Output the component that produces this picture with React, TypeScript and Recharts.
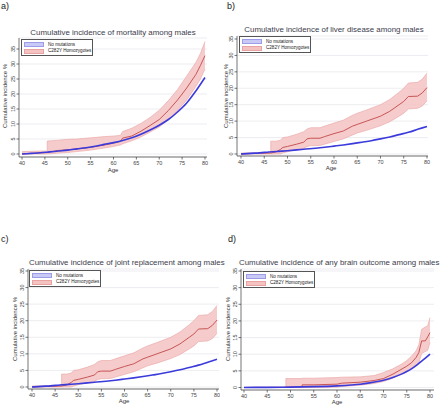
import React from 'react';
import { ComposedChart, Area, Line, XAxis, YAxis, CartesianGrid, Legend } from 'recharts';

const FONT = '"Liberation Sans", Arial, Helvetica, sans-serif';

// ---------- shared ticks ----------
const AGE_TICKS = [40, 45, 50, 55, 60, 65, 70, 75, 80];
const PCT_TICKS = [0, 5, 10, 15, 20, 25, 30, 35];
const SERIES_NAMES = ['No mutations', 'C282Y Homozygotes'];

// ---------- a) mortality ----------
const mortAges = [40, 42, 44, 45.5, 45.5, 48, 50, 52, 55, 58, 60, 61.5, 62, 64, 66, 68, 70, 72, 74, 76, 78, 79, 80];
const mortEst = [0, 0.2, 0.4, 0.5, 0.5, 1.2, 1.4, 1.7, 2.2, 3.0, 3.6, 4.2, 5.3, 6.0, 7.6, 9.5, 11.5, 14.5, 18.0, 22.0, 26.5, 29.5, 32.8];
const mortLow = [0, 0, 0, 0, 0, 0.3, 0.5, 0.8, 1.3, 2.0, 2.5, 3.0, 3.4, 4.4, 5.7, 7.3, 9.0, 11.5, 14.5, 18.0, 22.5, 25.0, 28.3];
const mortHigh = [0.8, 0.9, 1.0, 1.0, 4.3, 4.6, 4.9, 5.0, 5.4, 5.8, 6.0, 6.2, 7.5, 8.6, 10.2, 12.2, 14.6, 17.8, 21.5, 26.0, 30.5, 33.5, 37.5];
const refAges = [40, 42, 44, 46, 48, 50, 52, 54, 56, 58, 60, 62, 64, 66, 68, 70, 72, 74, 76, 78, 80];
const mortRef = [0, 0.2, 0.4, 0.7, 1.0, 1.3, 1.7, 2.1, 2.6, 3.2, 3.8, 4.5, 5.4, 6.6, 8.0, 9.6, 11.5, 14.0, 17.0, 21.0, 25.5];

// ---------- b) liver disease ----------
const liverAges = [40, 44, 46.4, 46.4, 47.5, 48.5, 49, 50, 52, 53.5, 54.2, 55, 57, 58, 60, 62, 64, 65, 67, 70, 72, 74, 75, 76, 78, 79, 80];
const liverEst = [0, 0.2, 0.3, 0.3, 0.6, 1.4, 2.0, 2.3, 3.0, 3.6, 4.6, 4.8, 4.8, 5.3, 6.2, 7.0, 8.5, 9.0, 10.0, 11.5, 13.0, 15.0, 16.0, 17.5, 17.6, 18.6, 20.2];
const liverLow = [0, 0, 0, 0, 0, 0, 0.3, 0.7, 1.3, 1.7, 2.3, 2.5, 2.6, 3.0, 3.8, 4.6, 5.8, 6.4, 7.2, 8.6, 9.8, 11.5, 12.4, 13.7, 13.9, 14.6, 16.2];
const liverHigh = [0.3, 0.4, 0.5, 3.9, 3.9, 4.2, 5.0, 5.2, 6.0, 6.8, 7.6, 8.0, 8.0, 8.5, 9.4, 10.3, 11.8, 12.4, 13.4, 15.0, 16.6, 18.8, 20.0, 21.6, 21.8, 22.8, 24.6];
const liverRef = [0, 0.2, 0.35, 0.6, 0.8, 1.0, 1.25, 1.5, 1.75, 2.05, 2.4, 2.75, 3.15, 3.6, 4.05, 4.6, 5.2, 5.9, 6.6, 7.5, 8.4];

// ---------- c) joint replacement ----------
const jointAges = [40, 44, 46.4, 46.4, 47.5, 48.5, 49, 50, 52, 53.5, 54.2, 55, 57, 58, 60, 62, 64, 65, 67, 70, 72, 74, 75, 76, 78, 79, 80];
const jointEst = [0, 0.2, 0.3, 0.3, 0.6, 1.4, 2.0, 2.3, 3.0, 3.6, 4.6, 4.8, 4.8, 5.3, 6.2, 7.0, 8.5, 9.0, 10.0, 11.5, 13.0, 15.0, 16.0, 17.5, 17.6, 18.6, 20.2];
const jointLow = [0, 0, 0, 0, 0, 0, 0.3, 0.7, 1.3, 1.7, 2.3, 2.5, 2.6, 3.0, 3.8, 4.6, 5.8, 6.4, 7.2, 8.6, 9.8, 11.5, 12.4, 13.7, 13.9, 14.6, 16.2];
const jointHigh = [0.3, 0.4, 0.5, 3.9, 3.9, 4.2, 5.0, 5.2, 6.0, 6.8, 7.6, 8.0, 8.0, 8.5, 9.4, 10.3, 11.8, 12.4, 13.4, 15.0, 16.6, 18.8, 20.0, 21.6, 21.8, 22.8, 24.6];
const jointRef = [0, 0.2, 0.35, 0.6, 0.8, 1.0, 1.25, 1.5, 1.75, 2.05, 2.4, 2.75, 3.15, 3.6, 4.05, 4.6, 5.2, 5.9, 6.6, 7.5, 8.4];

// ---------- d) any brain outcome ----------
const brainAges = [40, 49, 49, 52.5, 52.5, 55, 60, 61, 65, 68, 70, 72, 74, 75, 76, 77, 77.6, 78.2, 79, 79.5, 80];
const brainEst = [0, 0, 0.1, 0.2, 0.8, 0.8, 1.0, 1.3, 1.6, 2.1, 2.7, 4.0, 5.6, 6.4, 7.4, 9.0, 10.5, 14.0, 14.0, 15.2, 16.5];
const brainLow = [0, 0, 0, 0, 0, 0, 0.1, 0.3, 0.7, 1.2, 1.8, 2.8, 4.2, 5.0, 5.8, 6.8, 7.5, 10.2, 10.8, 11.2, 13.5];
const brainHigh = [0.1, 0.2, 2.7, 2.7, 2.8, 2.8, 3.0, 3.1, 3.2, 3.6, 4.5, 5.6, 7.1, 8.1, 9.4, 11.0, 12.8, 17.5, 18.2, 18.5, 21.0];
const brainRefAges = [40, 45, 50, 55, 60, 63, 65, 67, 69, 70, 72, 74, 75, 76, 77, 78, 79, 80];
const brainRef = [0, 0.05, 0.1, 0.25, 0.5, 0.75, 1.0, 1.4, 1.9, 2.2, 3.0, 4.1, 4.8, 5.6, 6.6, 7.7, 8.8, 10.0];

const buildBand = (ages: number[], est: number[], lo: number[], hi: number[]) =>
  ages.map((a, i) => ({ age: a, est: est[i], band: [lo[i], hi[i]] }));
const buildRef = (ages: number[], v: number[]) => ages.map((a, i) => ({ age: a, ref: v[i] }));

const AXIS = '#3a3a3a';
const BLUE = '#3b3bdc';
const RED = '#c24848';
const PINK = '#f5c2c2';
const PINK_EDGE = '#e9a2a2';
const LAV = '#c9c9f6';
const LAV_EDGE = '#9c9ce8';

const LegendBox = () => (
  <div
    style={{
      width: 72,
      height: 17,
      boxSizing: 'border-box',
      border: '0.7px solid #555',
      background: '#fff',
      fontFamily: FONT,
      fontSize: 4.6,
      color: '#222',
      padding: '1.5px 2px',
      lineHeight: '6px',
      whiteSpace: 'nowrap',
      overflow: 'hidden',
    }}
  >
    {SERIES_NAMES.map((n, i) => (
      <div key={n} style={{ display: 'flex', alignItems: 'center', height: 6.5, whiteSpace: 'nowrap' }}>
        <span
          style={{
            display: 'inline-block',
            flex: '0 0 20px',
            width: 20,
            height: 5,
            boxSizing: 'border-box',
            background: i === 0 ? LAV : PINK,
            border: `0.5px solid ${i === 0 ? LAV_EDGE : PINK_EDGE}`,
            marginRight: 4,
          }}
        />
        <span style={{ whiteSpace: 'nowrap' }}>{n}</span>
      </div>
    ))}
  </div>
);

type PanelProps = {
  left: number;
  top: number;
  width: number;
  height: number;
  margin: { top: number; right: number; bottom: number; left: number };
  yWidth: number;
  xHeight: number;
  xDomain: [number, number];
  yDomain: [number, number];
  legend: { x: number; y: number };
  yLabel: { x: number; y: number };
  ageLabel: { x: number; y: number };
  band: any[];
  ref_: any[];
};

const Panel = (p: PanelProps) => {
  const YTick = (tp: any) => {
    const { x, y, payload } = tp;
    return (
      <text
        x={x}
        y={y}
        transform={`rotate(-90 ${x} ${y})`}
        textAnchor="middle"
        fontSize={5.5}
        fill="#444"
        fontFamily={FONT}
      >
        {payload.value}
      </text>
    );
  };
  return (
    <div style={{ position: 'absolute', left: p.left, top: p.top, width: p.width, height: p.height }}>
      <ComposedChart width={p.width} height={p.height} margin={p.margin}>
        <CartesianGrid vertical={false} stroke="#e0e0e8" strokeWidth={0.6} />
        <XAxis
          dataKey="age"
          type="number"
          domain={p.xDomain}
          allowDataOverflow
          ticks={AGE_TICKS}
          interval={0}
          height={p.xHeight}
          stroke={AXIS}
          strokeWidth={0.7}
          tickSize={2.5}
          tickMargin={1.5}
          tick={{ fontSize: 5.5, fill: '#444', fontFamily: FONT }}
          label={{
            content: () => (
              <text x={p.ageLabel.x} y={p.ageLabel.y} textAnchor="middle" fontSize={6} fill="#333" fontFamily={FONT}>
                Age
              </text>
            ),
          }}
        />
        <YAxis
          type="number"
          domain={p.yDomain}
          allowDataOverflow
          ticks={PCT_TICKS}
          interval={0}
          width={p.yWidth}
          stroke={AXIS}
          strokeWidth={0.7}
          tickSize={2.5}
          tickMargin={1.5}
          tick={YTick}
          label={{
            content: () => (
              <text
                x={p.yLabel.x}
                y={p.yLabel.y}
                transform={`rotate(-90 ${p.yLabel.x} ${p.yLabel.y})`}
                textAnchor="middle"
                fontSize={6}
                fill="#333"
                fontFamily={FONT}
              >
                Cumulative incidence %
              </text>
            ),
          }}
        />
        <Area
          data={p.band}
          dataKey="band"
          type="linear"
          fill={PINK}
          fillOpacity={0.85}
          stroke={PINK_EDGE}
          strokeWidth={0.6}
          isAnimationActive={false}
          dot={false}
          activeDot={false}
        />
        <Line
          data={p.band}
          dataKey="est"
          type="linear"
          stroke={RED}
          strokeWidth={0.9}
          dot={false}
          activeDot={false}
          isAnimationActive={false}
        />
        <Line
          data={p.ref_}
          dataKey="ref"
          type="monotone"
          stroke={BLUE}
          strokeWidth={1.6}
          dot={false}
          activeDot={false}
          isAnimationActive={false}
        />
        <Legend
          layout="vertical"
          align="center"
          verticalAlign="middle"
          wrapperStyle={{ position: 'absolute', left: p.legend.x, top: p.legend.y, width: 72, height: 17 }}
          content={() => <LegendBox />}
        />
      </ComposedChart>
    </div>
  );
};

const TITLES = [
  'Cumulative incidence of mortality among males',
  'Cumulative incidence of liver disease among males',
  'Cumulative incidence of joint replacement among males',
  'Cumulative incidence of any brain outcome among males',
];
const LETTERS = ['a)', 'b)', 'c)', 'd)'];

export default function App() {
  return (
    <div
      style={{
        position: 'absolute',
        left: 0,
        top: 0,
        width: 440,
        height: 407,
        background: '#fff',
        overflow: 'hidden',
        fontFamily: FONT,
      }}
    >
      <Panel
        left={0}
        top={0}
        width={220}
        height={200}
        margin={{ top: 38, right: 13, bottom: 23, left: 0 }}
        yWidth={19}
        xHeight={20}
        xDomain={[39.34, 80.44]}
        yDomain={[-1, 38.67]}
        legend={{ x: 21, y: 39 }}
        yLabel={{ x: 7, y: 96 }}
        ageLabel={{ x: 113, y: 172 }}
        band={buildBand(mortAges, mortEst, mortLow, mortHigh)}
        ref_={buildRef(refAges, mortRef)}
      />
      <Panel
        left={220}
        top={0}
        width={220}
        height={200}
        margin={{ top: 36, right: 12, bottom: 24, left: 0 }}
        yWidth={17}
        xHeight={20}
        xDomain={[39.14, 80.22]}
        yDomain={[-0.61, 35.91]}
        legend={{ x: 19, y: 36 }}
        yLabel={{ x: 8, y: 96 }}
        ageLabel={{ x: 111, y: 170 }}
        band={buildBand(liverAges, liverEst, liverLow, liverHigh)}
        ref_={buildRef(refAges, liverRef)}
      />
      <Panel
        left={0}
        top={200}
        width={220}
        height={207}
        margin={{ top: 69, right: 1, bottom: 3, left: 0 }}
        yWidth={28}
        xHeight={15}
        xDomain={[39.135, 80.43]}
        yDomain={[-0.6, 35.6]}
        legend={{ x: 29, y: 70 }}
        yLabel={{ x: 17, y: 129 }}
        ageLabel={{ x: 124, y: 203 }}
        band={buildBand(jointAges, jointEst, jointLow, jointHigh)}
        ref_={buildRef(refAges, jointRef)}
      />
      <Panel
        left={220}
        top={200}
        width={220}
        height={207}
        margin={{ top: 69, right: 6, bottom: 2, left: 0 }}
        yWidth={21}
        xHeight={15}
        xDomain={[39.355, 80.86]}
        yDomain={[-0.75, 35.6]}
        legend={{ x: 23, y: 71 }}
        yLabel={{ x: 10, y: 129 }}
        ageLabel={{ x: 117, y: 204 }}
        band={buildBand(brainAges, brainEst, brainLow, brainHigh)}
        ref_={buildRef(brainRefAges, brainRef)}
      />
      <svg
        width={440}
        height={407}
        style={{ position: 'absolute', left: 0, top: 0, pointerEvents: 'none' }}
      >
        <g fontFamily={FONT} fill="#1a1a1a">
          <text x={1} y={9} fontSize={9}>{LETTERS[0]}</text>
          <text x={227} y={8.5} fontSize={9}>{LETTERS[1]}</text>
          <text x={1} y={242} fontSize={9}>{LETTERS[2]}</text>
          <text x={228} y={242} fontSize={9}>{LETTERS[3]}</text>
        </g>
        <g fontFamily={FONT} fill="#3c3c4c" fontSize={7.9}>
          <text x={113} y={35} textAnchor="middle">{TITLES[0]}</text>
          <text x={334} y={32} textAnchor="middle">{TITLES[1]}</text>
          <text x={29} y={264.5}>{TITLES[2]}</text>
          <text x={239} y={264.5}>{TITLES[3]}</text>
        </g>
      </svg>
    </div>
  );
}
